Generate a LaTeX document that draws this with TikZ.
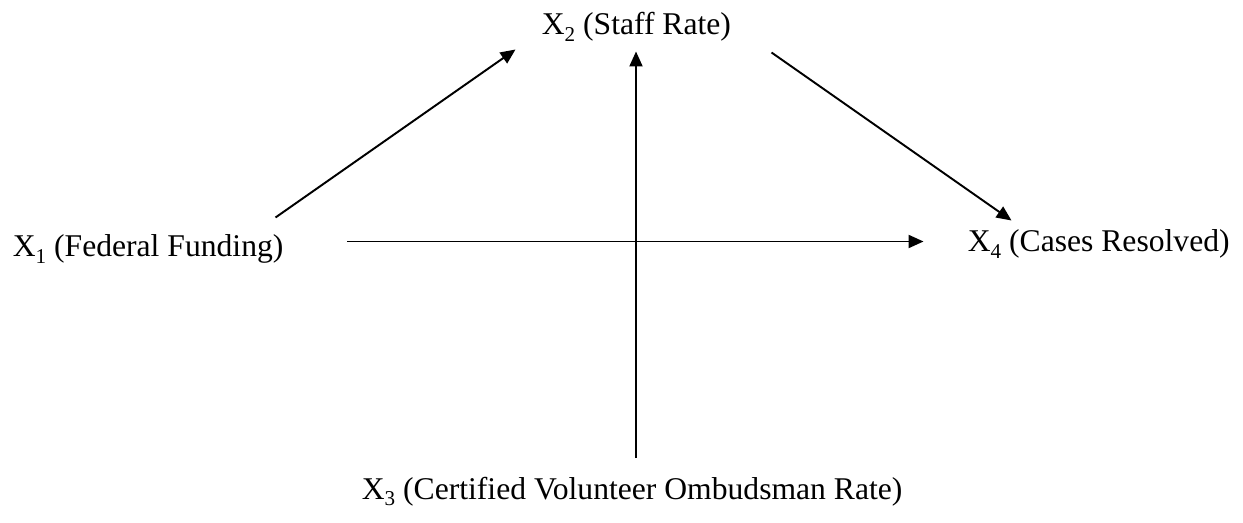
\documentclass[tikz,border=0pt]{standalone}
\usepackage{fontspec}
\setmainfont{Liberation Serif}
\usetikzlibrary{arrows.meta}
\newcommand{\vsub}[1]{\raisebox{-0.45ex}{\fontsize{12}{12}\selectfont #1}}

\begin{document}
\begin{tikzpicture}[x=1cm,y=1cm]
  \tikzset{
    varlabel/.style={anchor=base west, inner sep=0pt, font=\fontsize{18}{22}\selectfont},
    causal/.style={line width=1.1pt, -{Triangle[length=8.5pt,width=7.4pt]}}
  }
  \useasboundingbox (0,0) rectangle (24.86,-10.46);
  \node[varlabel] (x1) at (0.25,-5.13) {X\vsub{1} (Federal Funding)};
  \node[varlabel] (x2) at (10.83,-0.70) {X\vsub{2} (Staff Rate)};
  \node[varlabel] (x3) at (7.23,-9.98) {X\vsub{3} (Certified Volunteer Ombudsman Rate)};
  \node[varlabel] (x4) at (19.35,-5.03) {X\vsub{4} (Cases Resolved)};
  \coordinate (x1up) at (5.51,-4.35);
  \coordinate (x1right) at (6.94,-4.83);
  \coordinate (x2left) at (10.31,-0.99);
  \coordinate (x2below) at (12.72,-1.03);
  \coordinate (x2right) at (15.43,-1.05);
  \coordinate (x3up) at (12.72,-9.16);
  \coordinate (x4left) at (18.47,-4.83);
  \coordinate (x4up) at (20.23,-4.41);
  \draw[causal] (x1up) -- (x2left);
  \draw[causal] (x1right) -- (x4left);
  \draw[causal] (x3up) -- (x2below);
  \draw[causal] (x2right) -- (x4up);
\end{tikzpicture}
\end{document}
